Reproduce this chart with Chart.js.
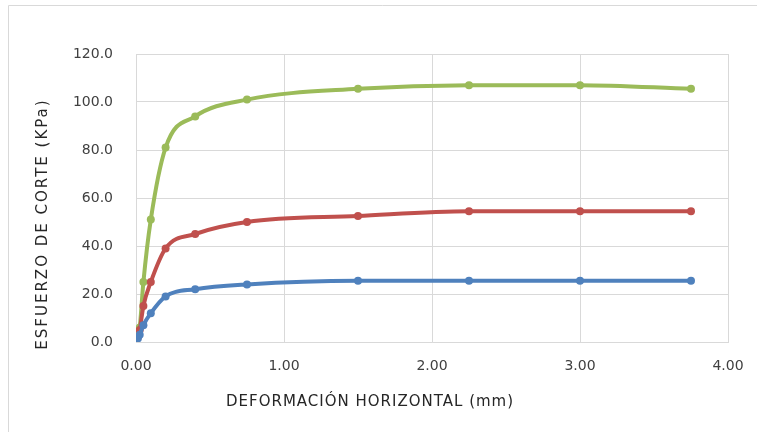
<!DOCTYPE html>
<html><head><meta charset="utf-8">
<script src="https://cdn.jsdelivr.net/npm/chart.js@4.4.1/dist/chart.umd.min.js"></script>
<style>
html,body{margin:0;padding:0;background:#fff;}
#wrap{position:relative;width:757px;height:432px;}
</style></head>
<body><div id="wrap"><canvas id="c" width="757" height="432"></canvas></div>
<script>
const deformacion = [0, 0.0125, 0.025, 0.05, 0.1, 0.2, 0.4, 0.75, 1.5, 2.25, 3.0, 3.75];
const serieAzul  = [0, 1.5, 3, 7, 12, 19, 22, 24, 25.5, 25.5, 25.5, 25.5];
const serieRoja  = [0, 2, 5, 15, 25, 39, 45, 50, 52.5, 54.5, 54.5, 54.5];
const serieVerde = [0, 3, 6, 25, 51, 81, 94, 101, 105.5, 107, 107, 105.5];
const xTickLabels = ['0.00','1.00','2.00','3.00','4.00'];
const yTickLabels = ['0.0','20.0','40.0','60.0','80.0','100.0','120.0'];
const xTitle = 'DEFORMACIÓN HORIZONTAL (mm)';
const yTitle = 'ESFUERZO DE CORTE (KPa)';

const pts = arr => deformacion.map((x,i)=>({x:x,y:arr[i]}));
const FONT = 'DejaVu Sans';
function ds(label, arr, color){
  return {label:label, data:pts(arr), borderColor:color, backgroundColor:color,
    borderWidth:4, pointRadius:4, pointStyle:'circle', pointBorderWidth:0,
    tension:0.4, cubicInterpolationMode:'monotone', fill:false};
}
const titles = {
  id:'titles',
  afterDraw(chart){
    const ctx = chart.ctx;
    ctx.save();
    ctx.strokeStyle = '#d9d9d9'; ctx.lineWidth = 1;
    ctx.beginPath();
    ctx.moveTo(8.5, 432); ctx.lineTo(8.5, 5.5); ctx.lineTo(757, 5.5);
    ctx.stroke();
    ctx.fillStyle = '#262626';
    ctx.font = '15px "' + FONT + '"';
    ctx.letterSpacing = '1px';
    ctx.textAlign = 'left'; ctx.textBaseline = 'middle';
    ctx.fillText(xTitle, 226, 402);
    ctx.translate(43, 224);
    ctx.rotate(-Math.PI/2);
    ctx.letterSpacing = '2px';
    const w2 = ctx.measureText(yTitle).width;
    ctx.fillText(yTitle, -w2/2, 0);
    ctx.restore();
  }
};
new Chart(document.getElementById('c'), {
  type:'line',
  data:{datasets:[ds('Serie 1', serieAzul, '#4F81BD'), ds('Serie 2', serieRoja, '#C0504D'), ds('Serie 3', serieVerde, '#9BBB59')]},
  options:{
    responsive:false, animation:false,
    layout:{padding:{left:0, right:29, top:54, bottom:0}},
    plugins:{legend:{display:false}, tooltip:{enabled:false}},
    scales:{
      x:{type:'linear', min:0, max:4,
        afterFit(s){ s.height = 90; s.paddingLeft = 0; s.paddingRight = 0; },
        grid:{color:'#d9d9d9', drawTicks:false},
        border:{color:'#d9d9d9'},
        ticks:{stepSize:1, padding:16, color:'#404040', font:{family:FONT, size:14},
          callback:(v)=>xTickLabels[Math.round(v)]}
      },
      y:{min:0, max:120,
        afterFit(s){ s.width = 136; s.paddingTop = 0; s.paddingBottom = 0; },
        grid:{color:'#d9d9d9', drawTicks:false},
        border:{color:'#d9d9d9'},
        ticks:{stepSize:20, padding:23, color:'#404040', font:{family:FONT, size:14},
          callback:(v)=>yTickLabels[Math.round(v/20)]}
      }
    }
  },
  plugins:[titles]
});
</script></body></html>
